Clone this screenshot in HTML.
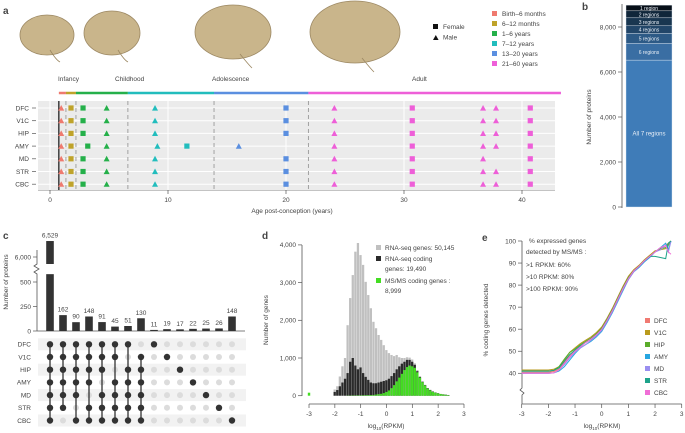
<!DOCTYPE html>
<html><head><meta charset="utf-8"><style>
body{margin:0;background:#fff;}
svg{display:block;font-family:"Liberation Sans",sans-serif;}
text{fill:#444;}
</style></head><body>
<svg id="fig" width="685" height="433" viewBox="0 0 685 433">
<g id="pa">
 <text x="3" y="14" font-size="10" font-weight="bold" fill="#000">a</text>
 <g fill="#c9b58b" stroke="#9c8863" stroke-width="0.8">
  <ellipse cx="47" cy="35" rx="27" ry="20"/><path d="M50 50 q6 10 10 12" fill="none"/>
  <ellipse cx="112" cy="33" rx="28" ry="22"/><path d="M118 50 q6 10 10 12" fill="none"/>
  <ellipse cx="233" cy="32" rx="38" ry="27"/><path d="M240 54 q8 10 12 14" fill="none"/>
  <ellipse cx="355" cy="32" rx="45" ry="31"/><path d="M362 58 q8 10 12 14" fill="none"/>
 </g>
 <g font-size="6.5">
  <rect x="433" y="24" width="5" height="5" fill="#111"/><text x="443" y="29">Female</text>
  <path d="M433 40 l2.8 -5 l2.8 5z" fill="#111"/><text x="443" y="39.5">Male</text>
 </g>
 <g id="ageLeg" font-size="6.5"></g>
 <g id="aplot"></g>
</g>
<g id="pb">
 <text x="582" y="10" font-size="10" font-weight="bold" fill="#000">b</text>
 <text transform="translate(591,117) rotate(-90)" text-anchor="middle" font-size="6.5">Number of proteins</text>
 <g id="bplot"></g>
</g>
<g id="pc">
 <text x="3" y="239" font-size="10" font-weight="bold" fill="#000">c</text>
 <text transform="translate(8,282) rotate(-90)" text-anchor="middle" font-size="6.5">Number of proteins</text>
 <g id="cplot"></g>
</g>
<g id="pd">
 <text x="262" y="239" font-size="10" font-weight="bold" fill="#000">d</text>
 <text transform="translate(268,320) rotate(-90)" text-anchor="middle" font-size="6.5">Number of genes</text>
 <text x="386" y="428" text-anchor="middle" font-size="6.5">log<tspan font-size="4.5" dy="2">10</tspan><tspan dy="-2">(RPKM)</tspan></text>
 <g font-size="6.5">
  <rect x="376" y="245" width="5" height="5" fill="#c0c0c0"/><text x="385" y="250">RNA-seq genes: 50,145</text>
  <rect x="376" y="256" width="5" height="5" fill="#2a2a2a"/><text x="385" y="261">RNA-seq coding</text><text x="385" y="271">genes: 19,490</text>
  <rect x="376" y="278" width="5" height="5" fill="#44dd22"/><text x="385" y="283">MS/MS coding genes :</text><text x="385" y="293">8,999</text>
 </g>
 <g id="dplot"></g>
</g>
<g id="pe">
 <text x="482" y="241" font-size="10" font-weight="bold" fill="#000">e</text>
 <text transform="translate(488,320) rotate(-90)" text-anchor="middle" font-size="6.5">% coding genes detected</text>
 <text x="602" y="428" text-anchor="middle" font-size="6.5">log<tspan font-size="4.5" dy="2">10</tspan><tspan dy="-2">(RPKM)</tspan></text>
 <g font-size="6.5">
  <text x="529" y="243">% expressed genes</text><text x="526" y="254">detected by MS/MS :</text>
  <text x="526" y="267">&gt;1 RPKM: 60%</text><text x="526" y="279">&gt;10 RPKM: 80%</text><text x="526" y="291">&gt;100 RPKM: 90%</text>
 </g>
 <g id="eplot"></g>
</g>
</svg>
<script>
// ---------- Panel a data ----------
const ageGroups=["Birth–6 months","6–12 months","1–6 years","7–12 years","13–20 years","21–60 years"];
const ageColors=["#ef7a6f","#bfa32a","#25b04a","#22bdbd","#5b8fe0","#ee5fd8"];
const regionsA=["DFC","V1C","HIP","AMY","MD","STR","CBC"];
const sampleAges=[0.95,1.78,2.8,4.8,8.9,20,24.1,30.7,36.7,37.8,40.7];
const sampleSex=["M","F","F","M","M","F","M","F","M","M","F"];
const sampleGroup=[0,1,2,2,3,4,5,5,5,5,5];
const amyAges=[0.95,1.78,3.2,4.8,9.1,11.6,16,24.1,30.7,36.7,37.8,40.7];
const amySex=["M","F","F","M","M","F","M","M","F","M","M","F"];
const amyGroup=[0,1,2,2,3,3,4,5,5,5,5,5];
const periodNames=["Infancy","Childhood","Adolescence","Adult"];
const periodBreaks=[0.75,1.35,2.2,6.6,13.9,21.9,43.3];
const ageTicks=[0,10,20,30,40];
// ---------- Panel b data ----------
const bLabels=["All 7 regions","6 regions","5 regions","4 regions","3 regions","2 regions","1 region"];
const bValues=[6529,742,444,338,355,311,253];
const bColors=["#3f7cb8","#3a6ea3","#2d5a86","#224669","#193650","#10263a","#070f18"];
const bTicks=[0,2000,4000,6000,8000];
// ---------- Panel c data ----------
const cValues=[6529,162,90,148,91,45,51,130,11,19,17,22,25,26,148];
const cLabels=["6,529","162","90","148","91","45","51","130","11","19","17","22","25","26","148"];
const cSets=[[0,1,2,3,4,5,6],[0,1,2,3,4,5],[0,1,2,3,4,6],[0,1,2,3,5,6],[0,1,2,4,5,6],[0,1,3,4,5,6],[0,2,3,4,5,6],[1,2,3,4,5,6],[0],[1],[2],[3],[4],[5],[6]];
const cTicks=[0,250,500,6000];
const cTickLabels=["0","250","500","6,000"];
// ---------- Panel d data ----------
const dBins=[-2.0,-1.9,-1.8,-1.7,-1.6,-1.5,-1.4,-1.3,-1.2,-1.1,-1.0,-0.9,-0.8,-0.7,-0.6,-0.5,-0.4,-0.3,-0.2,-0.1,0,0.1,0.2,0.3,0.4,0.5,0.6,0.7,0.8,0.9,1.0,1.1,1.2,1.3,1.4,1.5,1.6,1.7,1.8,1.9,2.0,2.1,2.2,2.3,2.4];
const dAll=[165,250,510,780,1000,1870,2590,3200,3820,4050,3730,3470,3020,2670,2320,1960,1790,1610,1480,1340,1210,1130,1080,1050,1080,1020,1000,1000,1020,1010,960,860,680,510,380,290,200,160,115,90,70,50,40,30,20];
const dCoding=[100,150,250,350,450,600,900,1000,800,700,750,600,500,420,350,330,330,350,370,390,410,450,520,600,700,780,850,900,950,950,900,820,650,500,370,280,200,150,110,85,65,45,35,25,15];
const dMS=[0,0,0,0,0,5,5,8,8,10,10,12,14,16,18,20,30,40,50,70,100,140,200,280,380,480,580,680,760,800,780,740,620,480,360,270,190,140,100,80,60,45,32,22,14];
const dOutlierX=-3, dOutlierY=80;
const dYTicks=[0,1000,2000,3000,4000];
const dXTicks=[-3,-2,-1,0,1,2,3];
// ---------- Panel e data ----------
const eRegions=["DFC","V1C","HIP","AMY","MD","STR","CBC"];
const eColors=["#f07a72","#b99a1c","#5aac2a","#27a6e0","#9a8ef0","#1da38a","#f06ed6"];
const eX=[-3,-2,-1.8,-1.6,-1.4,-1.2,-1,-0.8,-0.6,-0.4,-0.2,0,0.2,0.4,0.6,0.8,1,1.2,1.4,1.6,1.8,2,2.2,2.4,2.5,2.6];
const eDFC=[40.5,40.5,40.8,42,45,48,50,52,54,55.5,57.5,60,63.5,68,73,78,83,86.5,88.5,91,93,95,96.5,98,99,100];
const eV1C=[41.5,41.5,41.8,43,46,49.5,51.5,53.5,55,56.5,58.5,61,65,69.5,74.5,79.5,84,87,89,91.5,93.5,95.5,96,96.5,98,100];
const eHIP=[41,41,41.3,43,46.5,49.5,51,53,54.5,56,58,60.5,64.5,69,74,79,83.5,86.5,88.5,91,93,95,96.5,97,99,100];
const eAMY=[40,40,40.2,41,43,46,49,51.5,53,54.5,56.5,59,63,67.5,72.5,77.5,82.5,86,88,90.5,92.5,95,97,99,96,100];
const eMD=[40,40,40.2,41.5,44,47,49.5,51.5,53,55,57,59.5,63.5,68,73,78,82.5,86,88.5,91,93,95,96,98,95,100];
const eSTR=[41,41,41.3,42.5,45.5,48.5,50.5,52.5,54,55.5,57.5,60,64,68.5,73.5,78.5,83,86.5,88.5,91,93,93,92.5,92,99,100];
const eCBC=[40,40,40.2,41.5,44.5,47.5,50,52,54,55.5,57.5,60,64,68.5,73.5,78.5,83,86.5,88.5,91,93,95,97,98,95,94];
const eSeries=[eDFC,eV1C,eHIP,eAMY,eMD,eSTR,eCBC];
const eYTicks=[40,50,60,70,80,90,100];
const eXTicks=[-3,-2,-1,0,1,2,3];

const NS="http://www.w3.org/2000/svg";
function mk(parent,tag,attrs,txt){const e=document.createElementNS(NS,tag);for(const k in attrs)e.setAttribute(k,attrs[k]);if(txt!==undefined)e.textContent=txt;parent.appendChild(e);return e;}

// ===== Panel a =====
(function(){
 const g=document.getElementById('aplot');
 const xA=a=>50+a*11.8;
 const rowY=i=>108+i*12.7;
 const leg=document.getElementById('ageLeg');
 ageGroups.forEach((t,i)=>{
  const r=mk(leg,'rect',{x:492,y:11+i*10,width:5,height:5,fill:ageColors[i]});
  
  
  mk(leg,'text',{x:502,y:16+i*10},t);
 });
 const bg=mk(g,'rect',{x:38,y:101,width:517,height:89,fill:"#ebebeb"});
 
 
 ageTicks.forEach(t=>{mk(g,'line',{x1:xA(t),x2:xA(t),y1:101,y2:190,stroke:"#fff","stroke-width":1});});
 regionsA.forEach((r,i)=>{
  mk(g,'line',{x1:38,x2:555,y1:rowY(i),y2:rowY(i),stroke:"#fff","stroke-width":1});
  const lt=mk(g,'text',{x:29,y:rowY(i)+2.3,"text-anchor":"end","font-size":6.5},r);
  
  
  mk(g,'line',{x1:32,x2:36,y1:rowY(i),y2:rowY(i),stroke:"#555","stroke-width":0.7});
 });
 // period bar
 for(let i=0;i<6;i++){
  const s=mk(g,'line',{x1:xA(periodBreaks[i]),x2:xA(periodBreaks[i+1]),y1:93,y2:93,stroke:ageColors[i],"stroke-width":2.5});
  
  
 }
 const pX=[58,115,212,412];
 periodNames.forEach((p,i)=>{mk(g,'text',{x:pX[i],y:81,"font-size":6.5},p);});
 for(let i=1;i<6;i++){mk(g,'line',{x1:xA(periodBreaks[i]),x2:xA(periodBreaks[i]),y1:101,y2:190,stroke:"#999","stroke-width":0.9,"stroke-dasharray":"4,3"});}
 mk(g,'line',{x1:xA(0.75),x2:xA(0.75),y1:101,y2:190,stroke:"#111","stroke-width":1.2});
 // axis
 mk(g,'line',{x1:38,x2:555,y1:190.5,y2:190.5,stroke:"#888","stroke-width":0.6});
 ageTicks.forEach(t=>{mk(g,'line',{x1:xA(t),x2:xA(t),y1:190,y2:194,stroke:"#555","stroke-width":0.7});mk(g,'text',{x:xA(t),y:202,"text-anchor":"middle","font-size":6.5},t);});
 const at=mk(g,'text',{x:292,y:213,"text-anchor":"middle","font-size":6.5},"Age post-conception (years)");
 
 
 function marker(x,y,sex,col){
  let m;
  if(sex==="F") m=mk(g,'rect',{x:x-2.6,y:y-2.6,width:5.2,height:5.2,fill:col});
  else m=mk(g,'path',{d:`M${x-3} ${y+2.6} L${x} ${y-3} L${x+3} ${y+2.6}Z`,fill:col});
  
  
 }
 regionsA.forEach((r,i)=>{
  const isAmy=r==="AMY";
  const ages=isAmy?amyAges:sampleAges, sx=isAmy?amySex:sampleSex, gr=isAmy?amyGroup:sampleGroup;
  ages.forEach((a,j)=>{
   if(r==="MD"&&a===37.8)return;
   marker(xA(a),rowY(i),sx[j],ageColors[gr[j]]);
  });
 });
})();

// ===== Panel b =====
(function(){
 const g=document.getElementById('bplot');
 const yB=v=>207-v*0.0225;
 mk(g,'line',{x1:622,x2:622,y1:4,y2:208,stroke:"#555","stroke-width":0.8});
 bTicks.forEach(t=>{mk(g,'line',{x1:618,x2:622,y1:yB(t),y2:yB(t),stroke:"#555","stroke-width":0.7});mk(g,'text',{x:616,y:yB(t)+2.3,"text-anchor":"end","font-size":6.5},t.toLocaleString('en-US'));});
 let cum=0;
 bValues.forEach((v,i)=>{
  const y0=yB(cum),y1=yB(cum+v);
  const r=mk(g,'rect',{x:626,y:y1,width:46,height:y0-y1,fill:bColors[i],stroke:"#dfe8f2","stroke-width":0.4});
  
  
  const t=mk(g,'text',{x:649,y:(y0+y1)/2+2,"text-anchor":"middle","font-size":i===0?6:5,fill:"#e8eef6"},bLabels[i]);
  t.style.fill="#e8eef6";
  cum+=v;
 });
})();

// ===== Panel c =====
(function(){
 const g=document.getElementById('cplot');
 const yC=v=>v<=600?331-v*0.098:257-(v-6000)*0.0302;
 const xC=i=>50+i*13;
 const rowY=i=>344.3+i*12.7;
 // axis with break
 mk(g,'path',{d:"M37 331 L37 274 l-3 -2 l5 -3 l-5 -3 l3 -2 L37 250",fill:"none",stroke:"#555","stroke-width":0.8});
 mk(g,'line',{x1:37,x2:245,y1:331,y2:331,stroke:"#555","stroke-width":0.8});
 cTicks.forEach((t,i)=>{mk(g,'line',{x1:33,x2:37,y1:yC(t),y2:yC(t),stroke:"#555","stroke-width":0.7});mk(g,'text',{x:31,y:yC(t)+2.3,"text-anchor":"end","font-size":6.5},cTickLabels[i]);});
 regionsA.forEach((r,i)=>{
  if(i%2===0){mk(g,'rect',{x:38,y:rowY(i)-6,width:208,height:12,fill:"#f2f2f2"});}
  const t=mk(g,'text',{x:31,y:rowY(i)+2.3,"text-anchor":"end","font-size":6.5},r);
  
  
 });
 cValues.forEach((v,i)=>{
  const x=xC(i);
  if(v>600){
   const b1=mk(g,'rect',{x:x-3.8,y:yC(580),width:7.6,height:331-yC(580),fill:"#333"});
   
   
   const b2=mk(g,'rect',{x:x-3.8,y:yC(v),width:7.6,height:264-yC(v),fill:"#333"});
   
   
  } else {
   const b=mk(g,'rect',{x:x-3.8,y:yC(v),width:7.6,height:331-yC(v),fill:"#333"});
   
   
  }
  mk(g,'text',{x:x,y:yC(v)-3.5,"text-anchor":"middle","font-size":6.5},cLabels[i]);
  const s=cSets[i];
  regionsA.forEach((r,j)=>{
   if(!s.includes(j)) mk(g,'circle',{cx:x,cy:rowY(j),r:3,fill:"#dcdcdc"});
  });
  if(s.length>1) mk(g,'line',{x1:x,x2:x,y1:rowY(Math.min(...s)),y2:rowY(Math.max(...s)),stroke:"#333","stroke-width":1.3});
  s.forEach(j=>{
   const c=mk(g,'circle',{cx:x,cy:rowY(j),r:3.2,fill:"#333"});
   
   
  });
 });
})();

// ===== Panel d =====
(function(){
 const g=document.getElementById('dplot');
 const xD=u=>386.5+u*25.83;
 const yD=v=>395.7-v*0.0377;
 mk(g,'line',{x1:302,x2:302,y1:245,y2:396,stroke:"#555","stroke-width":0.8});
 dYTicks.forEach(t=>{mk(g,'line',{x1:298,x2:302,y1:yD(t),y2:yD(t),stroke:"#555","stroke-width":0.7});mk(g,'text',{x:296,y:yD(t)+2.3,"text-anchor":"end","font-size":6.5},t.toLocaleString('en-US'));});
 mk(g,'line',{x1:xD(-3),x2:xD(3),y1:404,y2:404,stroke:"#555","stroke-width":0.8});
 dXTicks.forEach(t=>{mk(g,'line',{x1:xD(t),x2:xD(t),y1:404,y2:408,stroke:"#555","stroke-width":0.7});mk(g,'text',{x:xD(t),y:416,"text-anchor":"middle","font-size":6.5},t);});
 const w=25.83*0.1;
 [[dAll,"#c0c0c0"],[dCoding,"#2a2a2a"],[dMS,"#44dd22"]].forEach(([arr,col])=>{
  dBins.forEach((b,i)=>{
   if(arr[i]<=0)return;
   const r=mk(g,'rect',{x:xD(b)-w/2,y:yD(arr[i]),width:w-0.3,height:395.7-yD(arr[i]),fill:col});
   
   
  });
 });
 const o=mk(g,'rect',{x:xD(dOutlierX)-1.2,y:yD(dOutlierY),width:2.4,height:395.7-yD(dOutlierY),fill:"#44dd22"});
 
 
})();

// ===== Panel e =====
(function(){
 const g=document.getElementById('eplot');
 const xE=u=>601.7+u*26.67;
 const yE=v=>373.3-(v-40)*2.205;
 mk(g,'path',{d:"M522 241 L522 388 l-2 2 l4 3 l-2 2 L522 404",fill:"none",stroke:"#555","stroke-width":0.8});
 eYTicks.forEach(t=>{mk(g,'line',{x1:518,x2:522,y1:yE(t),y2:yE(t),stroke:"#555","stroke-width":0.7});mk(g,'text',{x:516,y:yE(t)+2.3,"text-anchor":"end","font-size":6.5},t);});
 mk(g,'line',{x1:xE(-3),x2:xE(3),y1:404,y2:404,stroke:"#555","stroke-width":0.8});
 eXTicks.forEach(t=>{mk(g,'line',{x1:xE(t),x2:xE(t),y1:404,y2:408,stroke:"#555","stroke-width":0.7});mk(g,'text',{x:xE(t),y:416,"text-anchor":"middle","font-size":6.5},t);});
 eSeries.forEach((s,k)=>{
  const d=s.map((v,i)=>(i?'L':'M')+xE(eX[i]).toFixed(1)+' '+yE(v).toFixed(1)).join(' ');
  const p=mk(g,'path',{d:d,fill:"none",stroke:eColors[k],"stroke-width":1});
  
  
  const r=mk(g,'rect',{x:645,y:318+k*12,width:5,height:5,fill:eColors[k]});
  
  
  mk(g,'text',{x:654,y:323+k*12,"font-size":6.5},eRegions[k]);
 });
})();
</script>
</body></html>
